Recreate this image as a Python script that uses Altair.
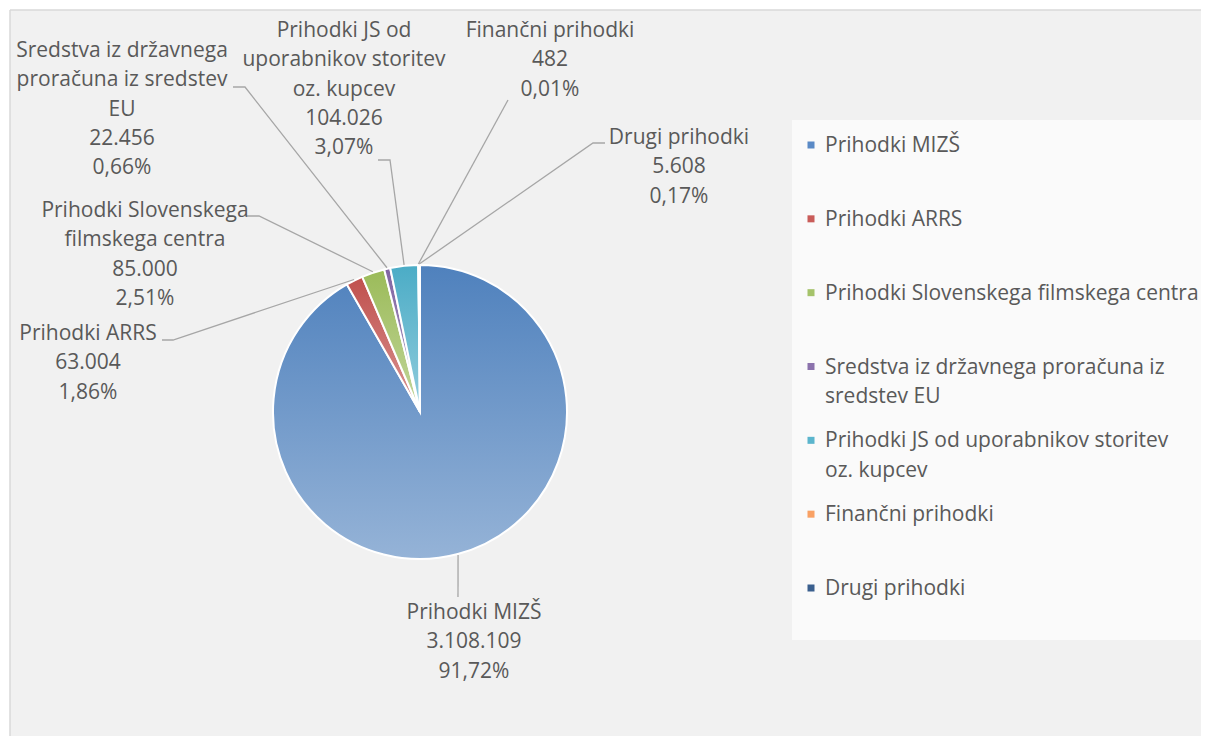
import math
import altair as alt
import pandas as pd

# ---------------- data ----------------
categories = [
    "Prihodki MIZŠ",
    "Prihodki ARRS",
    "Prihodki Slovenskega filmskega centra",
    "Sredstva iz državnega proračuna iz sredstev EU",
    "Prihodki JS od uporabnikov storitev oz. kupcev",
    "Finančni prihodki",
    "Drugi prihodki",
]
values = [3108109, 63004, 85000, 22456, 104026, 482, 5608]

# wrapped text as it appears in the picture
pie_label_names = [
    "Prihodki MIZŠ",
    "Prihodki ARRS",
    "Prihodki Slovenskega\nfilmskega centra",
    "Sredstva iz državnega\nproračuna iz sredstev\nEU",
    "Prihodki JS od\nuporabnikov storitev\noz. kupcev",
    "Finančni prihodki",
    "Drugi prihodki",
]
legend_names = [
    "Prihodki MIZŠ",
    "Prihodki ARRS",
    "Prihodki Slovenskega filmskega centra",
    "Sredstva iz državnega proračuna iz\nsredstev EU",
    "Prihodki JS od uporabnikov storitev\noz. kupcev",
    "Finančni prihodki",
    "Drugi prihodki",
]

# ---------------- style / layout ----------------
colors_top = ["#4F81BD", "#C0504D", "#9BBB59", "#8064A2", "#4BACC6", "#F79646", "#2C4D75"]
colors_bottom = ["#95B3D7", "#D99694", "#C3D69B", "#B2A2C7", "#93CDDD", "#FAC090", "#5B7FAE"]
colors_legend = ["#5A8AC6", "#C95C59", "#A5C36A", "#8B72AC", "#5BB5CD", "#F9A164", "#3A5F8E"]

W, H = 1193, 728
M = 8  # page margin, layout numbers below are page coordinates
CX, CY, R = 420 - M, 412 - M, 147
FONT = "Open Sans"
FS = 21
LH = 29.3
TXT = "#595959"

# label first-line centre and leader elbow / end (page coords)
label_xy = [(474, 612), (88, 333), (145, 210), (122, 50), (344, 30), (550, 30), (679, 137)]
leader_elbow = [(458, 597), (173, 340), (259, 216), (245, 87), (390, 160), (508, 100), (593, 143)]
leader_end = [(458, 597), (162, 340), (247, 216), (233, 87), (378, 160), (508, 100), (605, 143)]


def fmt_int(v):
    return f"{v:,}".replace(",", ".")


total = sum(values)
starts, ends = [], []
acc = 0
for v in values:
    starts.append(acc)
    acc += v
    ends.append(acc)

df = pd.DataFrame({"cat": categories, "value": values, "start": starts, "end": ends})

# labels
lab_rows = []
for i, c in enumerate(categories):
    pct = values[i] / total * 100
    txt = f"{pie_label_names[i]}\n{fmt_int(values[i])}\n" + f"{pct:.2f}".replace(".", ",") + "%"
    lab_rows.append({"cat": c, "px": label_xy[i][0] - M, "py": label_xy[i][1] - M, "label": txt})
lab_df = pd.DataFrame(lab_rows)

# leaders: start point derived from slice mid angle
lead_rows = []
for i, c in enumerate(categories):
    mid = (starts[i] + ends[i]) / 2 / total * 2 * math.pi
    sx = CX + (R + 1) * math.sin(mid)
    sy = CY - (R + 1) * math.cos(mid)
    pts = [(sx, sy), (leader_elbow[i][0] - M, leader_elbow[i][1] - M),
           (leader_end[i][0] - M, leader_end[i][1] - M)]
    for k, (x, y) in enumerate(pts):
        lead_rows.append({"cat": c, "ord": k, "px": x, "py": y})
lead_df = pd.DataFrame(lead_rows)

leg_df = pd.DataFrame({"cat": categories, "name": legend_names})

one = pd.DataFrame({"a": [0]})

# ---------------- layers ----------------
bg = alt.Chart(one).mark_rect(color="#F1F1F1").encode(
    x=alt.value(2), x2=alt.value(W), y=alt.value(2), y2=alt.value(H)
)
leg_bg = alt.Chart(one).mark_rect(color="#FAFAFA").encode(
    x=alt.value(784), x2=alt.value(W), y=alt.value(112), y2=alt.value(632)
)
frame_left = alt.Chart(one).mark_rule(color="#D9D9D9", strokeWidth=1.5).encode(
    x=alt.value(2), y=alt.value(2), y2=alt.value(H)
)
frame_top = alt.Chart(one).mark_rule(color="#D9D9D9", strokeWidth=1.5).encode(
    x=alt.value(2), x2=alt.value(W), y=alt.value(2)
)

theta_scale = alt.Scale(domain=[0, total], range=[0, 2 * math.pi])
arcs = []
for i, c in enumerate(categories):
    grad = alt.LinearGradient(
        gradient="linear",
        stops=[alt.GradientStop(color=colors_top[i], offset=0),
               alt.GradientStop(color=colors_bottom[i], offset=1)],
        x1=0, x2=0, y1=0, y2=1,
    )
    arcs.append(
        alt.Chart(df[df["cat"] == c]).mark_arc(color=grad, stroke="white", strokeWidth=2).encode(
            theta=alt.Theta("start:Q", scale=theta_scale),
            theta2="end:Q",
            radius=alt.value(R),
            x=alt.value(CX),
            y=alt.value(CY),
        )
    )

leaders = alt.Chart(lead_df).mark_line(color="#A6A6A6", strokeWidth=1.3).encode(
    x=alt.X("px:Q", scale=None, axis=None),
    y=alt.Y("py:Q", scale=None, axis=None),
    detail="cat:N",
    order="ord:Q",
)

labels = alt.Chart(lab_df).mark_text(
    align="center", baseline="alphabetic", dy=7, lineBreak="\n", lineHeight=LH,
    font=FONT, fontSize=FS, color=TXT,
).encode(
    x=alt.X("px:Q", scale=None, axis=None),
    y=alt.Y("py:Q", scale=None, axis=None),
    text="label:N",
)

leg_y = alt.Y("cat:N", sort=categories, axis=None,
              scale=alt.Scale(domain=categories, range=[145 - M, 588 - M], padding=0))
leg_sym = alt.Chart(leg_df).mark_square(size=49, opacity=1).encode(
    x=alt.value(811 - M),
    y=leg_y,
    color=alt.Color("cat:N", scale=alt.Scale(domain=categories, range=colors_legend), legend=None),
)
leg_txt = alt.Chart(leg_df).mark_text(
    align="left", baseline="alphabetic", dy=7, lineBreak="\n", lineHeight=LH,
    font=FONT, fontSize=FS, color=TXT,
).encode(
    x=alt.value(825 - M),
    y=leg_y,
    text="name:N",
)

chart = alt.layer(
    bg, leg_bg, frame_left, frame_top, *arcs, leaders, labels, leg_sym, leg_txt
).resolve_scale(y="independent").properties(
    width=W, height=H,
    autosize=alt.AutoSizeParams(type="fit", contains="padding"),
    padding=0,
    background="white",
).configure_view(stroke=None)

chart.save("out.html", embed_options={"renderer": "svg", "actions": False})
